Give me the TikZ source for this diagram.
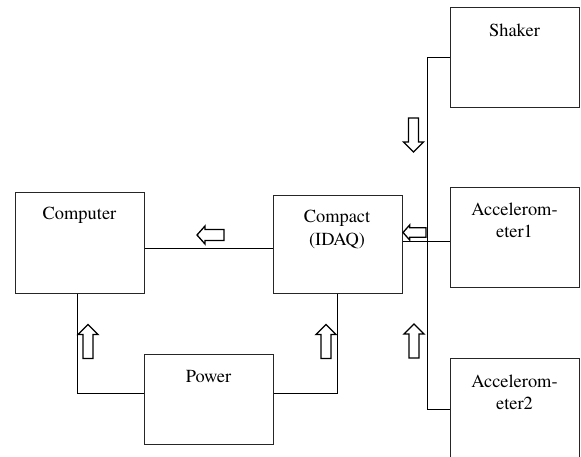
\documentclass[tikz,border=0pt]{standalone}
\usepackage{fontspec}
\setmainfont{TeX Gyre Termes}
\begin{document}
\begin{tikzpicture}[x=1pt,y=-1pt,
  box/.style={draw=black!85,line width=1pt,minimum width=129pt,inner sep=0pt},
  lbl/.style={anchor=base,inner sep=0pt,font=\fontsize{18.4}{22}\selectfont},
  wire/.style={draw=black,line width=0.9pt},
  arr/.style={draw=black,line width=1.3pt,fill=white,line join=miter},
  larrow/.pic={\path[arr] (-13.5,0) -- (-5.5,-9) -- (-5.5,-5.5) -- (13.5,-5.5) -- (13.5,5.5) -- (-5.5,5.5) -- (-5.5,9) -- cycle;},
  uarrow/.pic={\path[arr] (0,-17) -- (10,-7) -- (5,-7) -- (5,17) -- (-5,17) -- (-5,-7) -- (-10,-7) -- cycle;},
  darrow/.pic={\path[arr] (0,17) -- (10,7) -- (5,7) -- (5,-17) -- (-5,-17) -- (-5,7) -- (-10,7) -- cycle;}
]
\useasboundingbox (0,0) rectangle (581,457);
% boxes
\node[box,minimum height=100pt] (shaker) at (514.5,58) {};
\node[box,minimum height=100pt] (acc1) at (514.5,237.5) {};
\node[box,minimum height=101pt] (acc2) at (514.5,408.5) {};
\node[box,minimum height=100pt] (computer) at (79.5,243) {};
\node[box,minimum height=97pt] (compact) at (337.5,244.5) {};
\node[box,minimum height=90pt] (power) at (208.5,399) {};
% labels
\node[lbl] (tshaker) at (514.5,37) {Shaker};
\node[lbl] (tacc1) at (514.5,216) {\begin{tabular}[t]{@{}c@{}}Accelerom-\\eter1\end{tabular}};
\node[lbl] (tacc2) at (514.5,387) {\begin{tabular}[t]{@{}c@{}}Accelerom-\\eter2\end{tabular}};
\node[lbl] (tcomputer) at (79.5,220) {Computer};
\node[lbl] (tcompact) at (337,223) {\begin{tabular}[t]{@{}c@{}}Compact\\(IDAQ)\end{tabular}};
\node[lbl] (tpower) at (208.5,382) {Power};
% connector coordinates
\coordinate (ymid) at (0,248);
\coordinate (yacc) at (0,241);
\coordinate (bt) at (427,57);
\coordinate (bb) at (427,409);
\coordinate (jl) at (77,393);
\coordinate (jr) at (337.5,393);
% connectors
\draw[wire] (computer.east |- ymid) -- (compact.west |- ymid);
\draw[wire] (acc1.west |- yacc) -- (compact.east |- yacc);
\draw[wire] (shaker.west |- bt) -- (bt) -- (bb) -- (acc2.west |- bb);
\draw[wire] (computer.south -| jl) -- (jl) -- (power.west |- jl);
\draw[wire] (compact.south -| jr) -- (jr) -- (power.east |- jr);
% block arrows
\pic at (210.5,235) {larrow};
\pic[scale=0.85] at (414.5,232.5) {larrow};
\pic at (413.5,135) {darrow};
\pic at (414,341) {uarrow};
\pic at (88,341.5) {uarrow};
\pic at (326,341.5) {uarrow};
\end{tikzpicture}
\end{document}
